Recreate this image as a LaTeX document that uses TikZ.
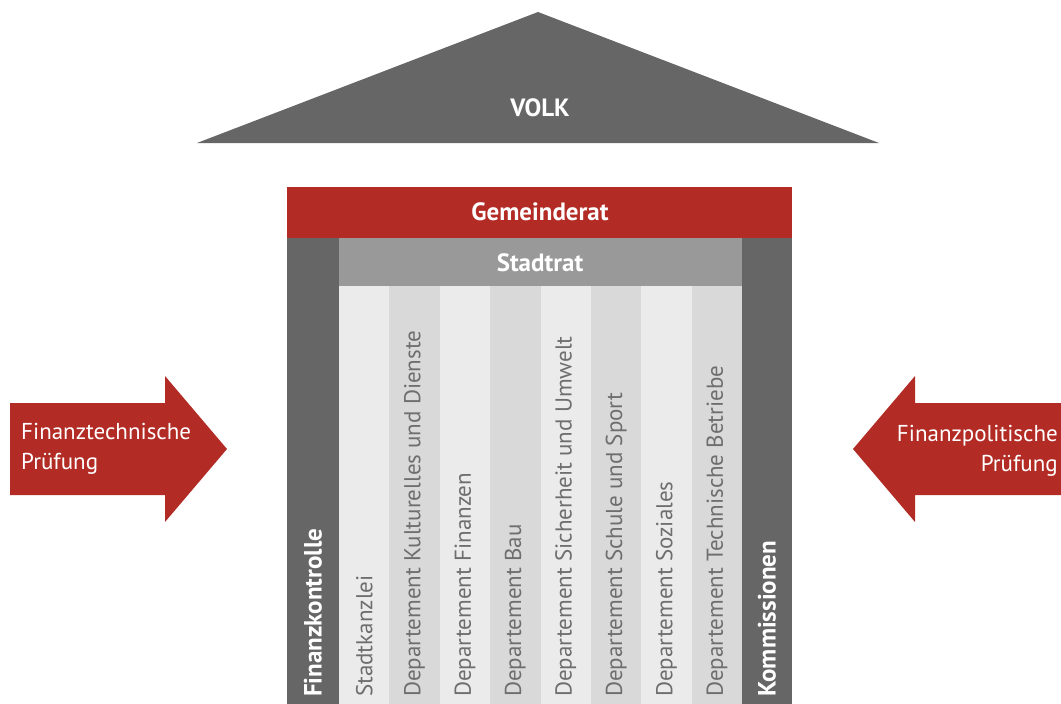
\documentclass[tikz,border=0pt]{standalone}
\usepackage{fontspec}
\setmainfont{PT Sans}
\usetikzlibrary{positioning}

\definecolor{rot}{HTML}{B22B25}
\definecolor{dunkel}{HTML}{666666}
\definecolor{mittel}{HTML}{999999}
\definecolor{hell}{HTML}{EBEBEB}
\definecolor{hellB}{HTML}{D9D9D9}
\definecolor{schrift}{HTML}{6E6E6E}

\tikzset{
  balken/.style={text=white,font=\fontsize{25}{28}\selectfont\bfseries},
  saeule/.style={rotate=90,anchor=west,inner sep=0pt,text=schrift,font=\fontsize{23}{26}\selectfont},
  rand/.style={rotate=90,anchor=west,inner sep=0pt,text=white,font=\fontsize{25}{28}\selectfont\bfseries},
  pfeiltext/.style={text=white,inner sep=0pt,font=\fontsize{23}{30}\selectfont}
}

\begin{document}
\begin{tikzpicture}[x=1pt,y=-1pt]
		\useasboundingbox (0,0) rectangle (1061,704);
		% Dach
		\fill[dunkel] (197,143) -- (538,12) -- (879,143) -- cycle;
		\node[balken] (volk) at (540,108) {VOLK};
		% Gemeinderat und Stadtrat
		\fill[rot] (287,187) rectangle (792,238);
		\node[balken] (gemeinderat) at (540,212) {Gemeinderat};
		\fill[dunkel] (287,238) rectangle (339,704);
		\fill[dunkel] (742,238) rectangle (792,704);
		\fill[mittel] (339,238) rectangle (742,286);
		\node[balken] (stadtrat) at (540,263) {Stadtrat};
		% Saeulen
		\foreach \i in {0,...,7} {
			\ifodd\i \def\farbe{hellB}\else \def\farbe{hell}\fi
			\fill[\farbe] ({339+50.4*\i},286) rectangle ({339+50.4*(\i+1)},704);
		}
		\node[saeule] (s1) at (364.2,697) {Stadtkanzlei};
		\node[saeule] (s2) at (414.6,697) {Departement Kulturelles und Dienste};
		\node[saeule] (s3) at (465.0,697) {Departement Finanzen};
		\node[saeule] (s4) at (515.4,697) {Departement Bau};
		\node[saeule] (s5) at (565.8,697) {Departement Sicherheit und Umwelt};
		\node[saeule] (s6) at (616.2,697) {Departement Schule und Sport};
		\node[saeule] (s7) at (666.6,697) {Departement Soziales};
		\node[saeule] (s8) at (717.0,697) {Departement Technische Betriebe};
		\node[rand] (fiko) at (313,697) {Finanzkontrolle};
		\node[rand] (kommissionen) at (767,697) {Kommissionen};
		% Pfeile
		\fill[rot] (10,403) -- (165,403) -- (165,376) -- (227,449) -- (165,522)
			-- (165,495) -- (10,495) -- cycle;
		\node[pfeiltext,align=left,anchor=west] (technisch) at (21,449)
			{Finanztechnische\\Prüfung};
		\fill[rot] (1061,403) -- (915,403) -- (915,376) -- (853,449) -- (915,522)
			-- (915,495) -- (1061,495) -- cycle;
		\node[pfeiltext,align=right,anchor=east] (politisch) at (1058,451)
			{Finanzpolitische\\Prüfung};
\end{tikzpicture}
\end{document}
